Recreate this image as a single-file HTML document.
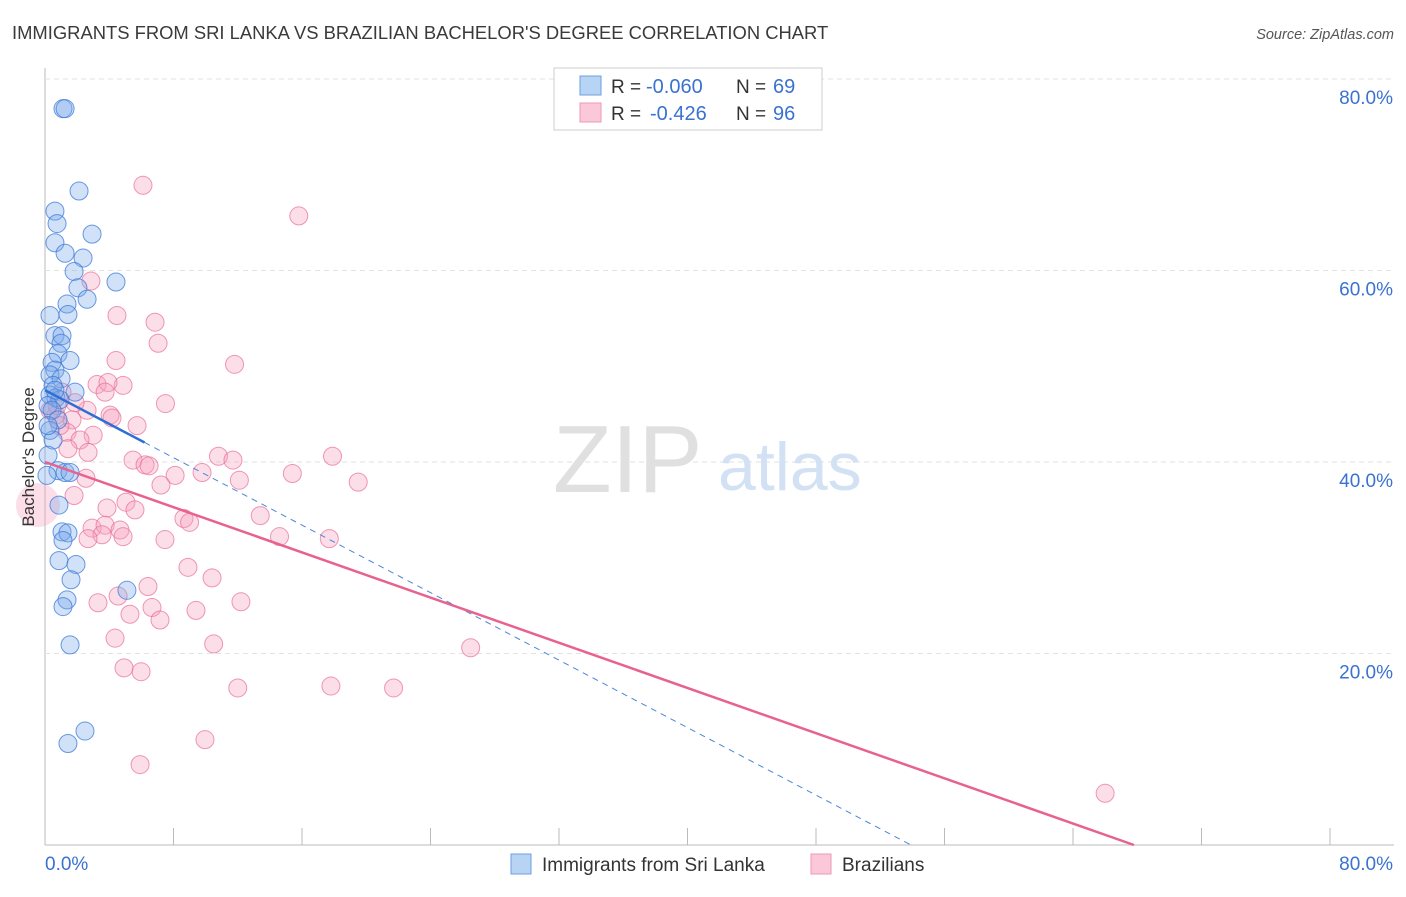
<!DOCTYPE html>
<html><head><meta charset="utf-8"><style>
body{margin:0;background:#fff;font-family:"Liberation Sans",sans-serif}
svg text{font-family:"Liberation Sans",sans-serif}
</style></head><body>
<svg id="chart" width="1406" height="892" viewBox="0 0 1406 892" xmlns="http://www.w3.org/2000/svg">
<text x="12" y="39" font-size="18.4" fill="#3a3a3a">IMMIGRANTS FROM SRI LANKA VS BRAZILIAN BACHELOR'S DEGREE CORRELATION CHART</text>
<text x="1394" y="39" font-size="14.5" fill="#555" text-anchor="end" font-style="italic">Source: ZipAtlas.com</text>
<g id="grid"></g>
<text x="553" y="492" font-size="96" fill="#e0e0e0" font-family="Liberation Serif, serif">ZIP</text>
<text x="718" y="490" font-size="68" fill="#d2e1f4">atlas</text>
<g id="marks"></g>
<text transform="translate(34,457) rotate(-90)" font-size="17" fill="#333" text-anchor="middle">Bachelor's Degree</text>
<g>
<rect x="554" y="68" width="268" height="62" fill="#fff" stroke="#ccc"/>
<rect x="580" y="76" width="21" height="19" fill="#b8d4f5" stroke="#6a9fe0"/>
<rect x="580" y="103" width="21" height="19" fill="#fac8d8" stroke="#ef97b4"/>
<text x="611" y="93" font-size="19" fill="#333">R =</text>
<text x="646" y="93" font-size="20" fill="#3a72d0">-0.060</text>
<text x="736" y="93" font-size="19" fill="#333">N =</text>
<text x="773" y="93" font-size="20" fill="#3a72d0">69</text>
<text x="611" y="120" font-size="19" fill="#333">R =</text>
<text x="650" y="120" font-size="20" fill="#3a72d0">-0.426</text>
<text x="736" y="120" font-size="19" fill="#333">N =</text>
<text x="773" y="120" font-size="20" fill="#3a72d0">96</text>
</g>
<g>
<rect x="511" y="854" width="20" height="20" fill="#b8d4f5" stroke="#6a9fe0"/>
<text x="542" y="871" font-size="19" fill="#333">Immigrants from Sri Lanka</text>
<rect x="811" y="854" width="20" height="20" fill="#fac8d8" stroke="#ef97b4"/>
<text x="842" y="871" font-size="19" fill="#333">Brazilians</text>
</g>
</svg>
<script>
const blueX=[1.12,1.25,2.12,0.62,0.75,2.93,0.62,1.25,2.37,1.81,4.42,2.05,2.62,1.37,1.43,0.31,0.62,1.06,1.0,0.81,1.56,0.44,0.62,0.31,1.0,0.5,1.87,0.31,0.68,0.93,0.19,0.44,0.81,0.31,0.5,0.19,0.81,1.25,1.56,0.12,0.87,1.06,1.43,1.12,0.87,1.93,1.62,1.37,1.12,5.1,1.56,2.49,1.43,0.62,0.19];
const blueY=[76.9,76.9,68.3,66.2,64.9,63.8,62.9,61.8,61.3,59.9,58.8,58.2,57.0,56.5,55.4,55.3,53.2,53.2,52.4,51.3,50.6,50.4,49.6,49.1,48.7,48.0,47.3,47.0,46.7,46.5,45.9,45.4,44.4,43.3,42.3,40.7,39.1,38.9,38.9,38.6,35.5,32.7,32.6,31.8,29.7,29.3,27.7,25.6,24.9,26.6,20.9,11.9,10.6,47.5,43.8];
const pinkX=[6.1,15.8,2.86,4.48,6.85,7.04,4.42,11.8,3.24,4.86,3.92,3.74,1.06,7.5,2.62,4.05,4.17,1.68,0.68,5.73,1.37,3.0,2.18,1.43,2.68,10.8,17.9,5.48,11.7,6.23,6.48,9.78,15.4,8.1,12.1,2.55,19.5,7.22,1.81,5.04,3.86,5.6,13.4,8.65,9.0,2.93,3.74,4.67,4.86,3.55,14.6,17.7,7.47,2.68,8.9,10.4,6.41,4.55,3.3,12.2,6.66,9.4,5.29,7.16,4.36,10.5,26.5,4.92,5.98,12.0,17.8,21.7,9.96,5.92,66.0,0.75,0.31,0.93,1.87];
const pinkY=[68.9,65.7,58.9,55.3,54.6,52.4,50.6,50.2,48.1,48.0,48.3,47.3,47.3,46.1,45.4,44.9,44.6,44.4,44.9,43.8,43.1,42.8,42.3,41.4,41.0,40.6,40.6,40.2,40.2,39.7,39.6,38.9,38.8,38.6,38.1,38.3,37.9,37.6,36.5,35.8,35.2,35.0,34.4,34.1,33.7,33.1,33.4,32.9,32.2,32.4,32.2,32.0,31.9,32.0,29.0,27.9,27.0,26.0,25.3,25.4,24.8,24.5,24.1,23.5,21.6,21.0,20.6,18.5,18.1,16.4,16.6,16.4,11.0,8.4,5.4,45.9,45.4,43.8,46.2];
const yTicks=[20,40,60,80];
const blueLine=[47.5,-0.881]; const pinkLine=[40.0,-0.59];
const sx=v=>45+v*(1285/80), sy=v=>845-v*(766/80);
const NS="http://www.w3.org/2000/svg";
const g=document.getElementById('grid'), m=document.getElementById('marks');
function mk(p,tag,a){const e=document.createElementNS(NS,tag);for(const k in a)e.setAttribute(k,a[k]);p.appendChild(e);return e;}
let ax=mk(g,'line',{x1:45,y1:68,x2:45,y2:845,stroke:'#bbb'});


let bx=mk(g,'line',{x1:45,y1:845,x2:1394,y2:845,stroke:'#bbb'});


for(let i=0;i<=10;i++){let t=mk(g,'line',{x1:sx(i*8),y1:828,x2:sx(i*8),y2:845,stroke:'#bbb'});

}
yTicks.forEach(v=>{let l=mk(g,'line',{x1:45,y1:sy(v),x2:1394,y2:sy(v),stroke:'#e2e2e2','stroke-dasharray':'5,4'});


let t=mk(g,'text',{x:1393,y:sy(v)+25,'font-size':19,fill:'#3a72d0','text-anchor':'end'});t.textContent=v.toFixed(1)+'%';

});
let x0=mk(g,'text',{x:45,y:870,'font-size':19,fill:'#3a72d0'});x0.textContent='0.0%';


let x1=mk(g,'text',{x:1393,y:870,'font-size':19,fill:'#3a72d0','text-anchor':'end'});x1.textContent='80.0%';


pinkX.forEach((x,i)=>{let c=mk(m,'circle',{cx:sx(x),cy:sy(pinkY[i]),r:9,fill:'rgba(245,160,190,0.35)',stroke:'rgba(232,110,150,0.7)','stroke-width':1});

});
let big=mk(m,'circle',{cx:38,cy:sy(35.5),r:22,fill:'rgba(245,160,190,0.35)'});


blueX.forEach((x,i)=>{let c=mk(m,'circle',{cx:sx(x),cy:sy(blueY[i]),r:9,fill:'rgba(120,170,235,0.35)',stroke:'rgba(60,120,215,0.75)','stroke-width':1});

});
const bz=-blueLine[0]/blueLine[1];
let bd=mk(m,'line',{x1:sx(6.2),y1:sy(blueLine[0]+blueLine[1]*6.2),x2:sx(bz),y2:sy(0),stroke:'#4a86d8','stroke-width':1,'stroke-dasharray':'6,5'});


let bs=mk(m,'line',{x1:sx(0),y1:sy(blueLine[0]),x2:sx(6.2),y2:sy(blueLine[0]+blueLine[1]*6.2),stroke:'#2e6fd6','stroke-width':2.5});


const pz=-pinkLine[0]/pinkLine[1];
let pl=mk(m,'line',{x1:sx(0),y1:sy(pinkLine[0]),x2:sx(pz),y2:sy(0),stroke:'#e8628f','stroke-width':2.5});


</script>
</body></html>
